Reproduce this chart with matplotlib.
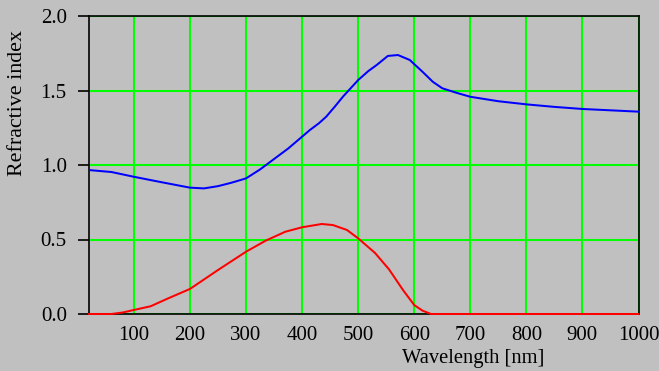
import matplotlib
matplotlib.use("Agg")
import matplotlib.pyplot as plt

# Wavelength grid (nm) and optical constants
wl_n = [20, 60, 100, 150, 200, 225, 250, 274, 300, 325, 350, 375, 400, 414,
        430, 443, 458, 473, 500, 518, 533, 553, 571, 592, 615, 633, 650, 675,
        700, 750, 800, 850, 900, 950, 1000]
n_real = [0.966, 0.953, 0.921, 0.884, 0.848, 0.843, 0.858, 0.881, 0.910, 0.970,
          1.040, 1.110, 1.190, 1.235, 1.280, 1.324, 1.390, 1.459, 1.570, 1.630,
          1.671, 1.732, 1.738, 1.705, 1.625, 1.559, 1.515, 1.485,
          1.458, 1.428, 1.407, 1.390, 1.376, 1.367, 1.358]

wl_k = [20, 60, 80, 100, 130, 160, 200, 250, 300, 335, 370, 400, 435, 455,
        480, 500, 530, 555, 580, 600, 615, 630, 1000]
k_imag = [0.0, 0.0, 0.010, 0.027, 0.052, 0.103, 0.168, 0.295, 0.418, 0.492,
          0.552, 0.582, 0.604, 0.597, 0.564, 0.508, 0.410, 0.300, 0.161,
          0.060, 0.022, 0.0, 0.0]

x_ticks = [100, 200, 300, 400, 500, 600, 700, 800, 900, 1000]
y_ticks = [0.0, 0.5, 1.0, 1.5, 2.0]

plt.rcParams['font.family'] = ['Liberation Serif', 'DejaVu Serif']

W, H = 659, 371
fig = plt.figure(figsize=(W / 100, H / 100), dpi=100)
bg = '#c0c0c0'
fig.patch.set_facecolor(bg)
ax = fig.add_axes([89 / W, 1 - 314 / H, (638.5 - 89) / W, (314 - 16) / H])
ax.set_facecolor(bg)

ax.set_xlim(20, 1000)
ax.set_ylim(0, 2.0)
ax.set_xticks(x_ticks)
ax.set_yticks(y_ticks)
ax.set_xticklabels([str(t) for t in x_ticks])
ax.set_yticklabels([f"{t:.1f}" for t in y_ticks])

ax.grid(True, color='#00ff00', linewidth=1.45, zorder=1)
ax.set_axisbelow(True)

for s in ax.spines.values():
    s.set_color('black')
    s.set_linewidth(1.2)
    s.set_zorder(2)

ax.tick_params(axis='y', direction='out', length=8, width=1.2, pad=8,
               labelsize=15, colors='black')
ax.tick_params(axis='x', length=0, pad=9, labelsize=15, colors='black')

ax.plot(wl_n, n_real, color='#0000ff', linewidth=1.45, zorder=3)
ax.plot(wl_k, k_imag, color='#ff0000', linewidth=1.45, zorder=4, clip_on=False)

fig.text(473 / W, 1 - 358 / H, 'Wavelength [nm]', ha='center', va='center',
         fontsize=14.8)
fig.text(18 / W, 1 - 103 / H, 'Refractive index', ha='center', va='center',
         rotation=90, fontsize=15.8)

fig.savefig('out.png', dpi=100, facecolor=bg)
